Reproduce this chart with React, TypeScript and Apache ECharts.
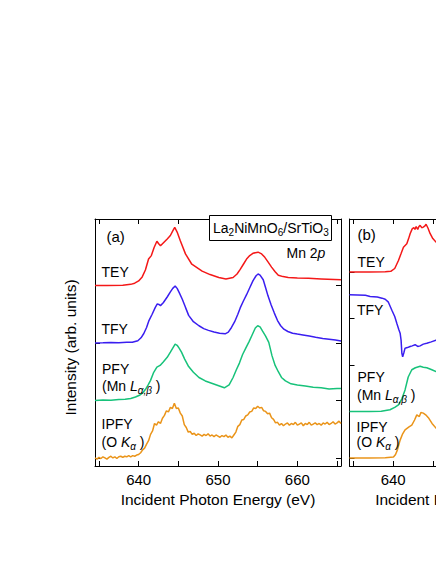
import React, { useEffect, useRef } from "react";
import * as echarts from "echarts";

const FONT = "'Liberation Sans', Arial, Helvetica, sans-serif";

// x axis (incident photon energy, eV)
const xMin = 634.5;
const xMax = 665.5;
const xTicks = [635, 640, 645, 650, 655, 660, 665];
const xTickLabelsA = [640, 650, 660];
const xTickLabelsB = [640];

// y axis (stacked intensity, arb. units)
const yMin = -0.14;
const yMax = 4.157;
const yTicksA = [0, 1, 2, 3];
const yTicksB = [0, 0.809, 1.618, 2.427, 3.236];

// Colors
const colTEY = "#f41818";
const colTFY = "#3a1ef0";
const colPFY = "#17c27a";
const colIPFY = "#ea9419";

// ---------- Panel (a) : Mn 2p ----------
const offsetsA = { TEY: 3, TFY: 2, PFY: 1, IPFY: 0 };

const teyA: [number, number][] = [
  [634.5, 0], [636, 0], [638, 0.005], [639, 0.02], [639.5, 0.04], [640, 0.08], [640.45, 0.15],
  [640.85, 0.27], [641.25, 0.46], [641.6, 0.52], [641.95, 0.66], [642.3, 0.77], [642.5, 0.73],
  [642.75, 0.69], [643.1, 0.74], [643.6, 0.81], [644.0, 0.87], [644.3, 0.95], [644.55, 1.01],
  [644.85, 0.93], [645.25, 0.78], [645.9, 0.55], [646.7, 0.37], [648.0, 0.25], [649.0, 0.19],
  [650.1, 0.14], [651.0, 0.115], [651.9, 0.14], [652.4, 0.2], [652.8, 0.28], [653.2, 0.37],
  [653.6, 0.46], [654.0, 0.52], [654.4, 0.56], [655.05, 0.58], [655.5, 0.55], [655.9, 0.49],
  [656.3, 0.41], [656.75, 0.32], [657.2, 0.24], [657.6, 0.18], [658.2, 0.155], [658.85, 0.14],
  [660, 0.13], [661.4, 0.125], [663, 0.115], [665.5, 0.1],
];

const tfyA: [number, number][] = [
  [634.5, 0], [635.5, 0.003], [636.5, 0.008], [637.5, 0.005], [638.5, 0.012], [639.2, 0.014],
  [639.9, 0.04], [640.3, 0.09], [640.65, 0.165], [641.0, 0.27], [641.3, 0.39], [641.7, 0.5],
  [642.1, 0.62], [642.35, 0.68], [642.55, 0.67], [642.75, 0.65], [643.1, 0.7], [643.6, 0.8],
  [644.0, 0.89], [644.3, 0.95], [644.6, 0.99], [644.85, 0.95], [645.1, 0.88], [645.5, 0.76],
  [645.9, 0.62], [646.3, 0.48], [646.9, 0.37], [647.6, 0.3], [648.2, 0.25], [648.8, 0.22],
  [649.5, 0.19], [650.2, 0.17], [650.9, 0.16], [651.3, 0.19], [651.7, 0.27], [652.1, 0.37],
  [652.5, 0.5], [652.8, 0.61], [653.2, 0.73], [653.6, 0.84], [654.0, 0.96], [654.4, 1.08],
  [654.8, 1.17], [655.05, 1.2], [655.3, 1.18], [655.7, 1.1], [656.0, 0.96], [656.3, 0.82],
  [656.7, 0.66], [657.1, 0.52], [657.5, 0.39], [657.9, 0.3], [658.3, 0.24], [658.8, 0.2],
  [659.4, 0.17], [660.0, 0.155], [660.7, 0.14], [661.5, 0.12], [662.3, 0.1], [663.2, 0.08],
  [664.0, 0.065], [664.8, 0.05], [665.5, 0.035],
];

const pfyA: [number, number][] = [
  [634.5, 0], [635.5, 0.01], [636.5, 0.005], [637.5, 0.015], [638.3, 0.02], [639.0, 0.035],
  [639.6, 0.06], [640.1, 0.09], [640.5, 0.13], [640.85, 0.19], [641.2, 0.27], [641.5, 0.35],
  [641.9, 0.49], [642.3, 0.58], [642.7, 0.61], [643.1, 0.67], [643.6, 0.75], [644.0, 0.84],
  [644.3, 0.91], [644.6, 0.98], [644.85, 0.96], [645.1, 0.91], [645.4, 0.84], [645.8, 0.72],
  [646.3, 0.59], [646.9, 0.49], [647.6, 0.4], [648.4, 0.34], [649.2, 0.3], [650.0, 0.26],
  [650.8, 0.22], [651.4, 0.27], [651.9, 0.4], [652.3, 0.53], [652.7, 0.65], [653.1, 0.8],
  [653.5, 0.91], [653.9, 1.02], [654.3, 1.14], [654.7, 1.26], [655.0, 1.3], [655.3, 1.28],
  [655.6, 1.21], [656.0, 1.12], [656.4, 1.01], [656.8, 0.78], [657.2, 0.61], [657.6, 0.5],
  [658.0, 0.4], [658.5, 0.34], [659.2, 0.29], [660.0, 0.27], [661.0, 0.25], [662.0, 0.23],
  [663.0, 0.22], [664.0, 0.2], [665.0, 0.21], [665.5, 0.21],
];

// IPFY sampled every 0.25 eV starting at 634.5 eV
const ipfyStartA = 634.5;
const ipfyStepA = 0.25;
const ipfyA = [
  0.0, -0.02, 0.01, -0.01, 0.02, 0.0, -0.02, 0.01, 0.03, 0.0,
  0.02, -0.01, 0.02, 0.03, 0.01, 0.03, 0.02, 0.04, 0.02, 0.04,
  0.03, 0.05, 0.06, 0.09, 0.14, 0.17, 0.24, 0.3, 0.41, 0.47,
  0.6, 0.57, 0.63, 0.6, 0.69, 0.74, 0.82, 0.8, 0.88, 0.86,
  0.95, 0.86, 0.87, 0.78, 0.73, 0.58, 0.53, 0.45, 0.46, 0.41,
  0.43, 0.39, 0.42, 0.4, 0.38, 0.41, 0.39, 0.42, 0.38, 0.4,
  0.37, 0.4, 0.38, 0.36, 0.39, 0.37, 0.4, 0.36, 0.38, 0.35,
  0.4, 0.45, 0.55, 0.58, 0.66, 0.67, 0.73, 0.75, 0.8, 0.81,
  0.87, 0.86, 0.9, 0.87, 0.88, 0.82, 0.81, 0.77, 0.78, 0.7,
  0.67, 0.61, 0.62, 0.57, 0.6, 0.56, 0.59, 0.61, 0.57, 0.6,
  0.58, 0.62, 0.57, 0.59, 0.61, 0.56, 0.6, 0.58, 0.62, 0.57,
  0.59, 0.61, 0.58, 0.6, 0.57, 0.61, 0.59, 0.62, 0.58, 0.6,
  0.63, 0.59, 0.61, 0.64, 0.6,
];

// ---------- Panel (b) ----------
const offsetsB = { TEY: 3.236, TFY: 2.0, PFY: 0.809, IPFY: 0 };

const teyB: [number, number][] = [
  [634.5, 0], [637, 0], [639, 0.003], [639.7, 0.01], [640.2, 0.06], [640.67, 0.2], [641.0, 0.32],
  [641.3, 0.43], [641.72, 0.49], [641.95, 0.58], [642.15, 0.67], [642.4, 0.75], [642.6, 0.77],
  [642.75, 0.74], [642.9, 0.79], [643.1, 0.74], [643.25, 0.79], [643.4, 0.81], [643.6, 0.77],
  [643.8, 0.78], [644.0, 0.8], [644.15, 0.83], [644.4, 0.76], [644.65, 0.67], [645.0, 0.58],
  [645.4, 0.52], [646, 0.45],
];

const tfyB: [number, number][] = [
  [634.5, 0.84], [635.5, 0.835], [636.5, 0.83], [637.1, 0.81], [638, 0.8], [638.6, 0.78],
  [639.0, 0.76], [639.4, 0.71], [639.84, 0.57], [640.2, 0.46], [640.47, 0.34], [640.7, 0.24],
  [640.88, 0.17], [641.0, 0.05], [641.1, -0.18], [641.2, -0.24], [641.35, -0.17], [641.5, -0.09],
  [641.8, -0.08], [642.14, -0.06], [642.4, -0.05], [642.77, -0.03], [643.1, -0.06], [643.4, -0.05],
  [643.8, -0.02], [644.24, -0.005], [644.8, 0.02], [645.4, 0.05], [646, 0.07],
];

const pfyB: [number, number][] = [
  [634.5, 0], [637, 0], [638.5, 0.005], [639.6, 0.03], [640.2, 0.07], [640.67, 0.115],
  [641.1, 0.22], [641.5, 0.375], [641.9, 0.6], [642.35, 0.725], [642.8, 0.76], [643.4, 0.785],
  [643.8, 0.77], [644.24, 0.76], [644.8, 0.73], [645.4, 0.695], [646, 0.66],
];

const ipfyB: [number, number][] = [
  [634.5, 0], [637, 0], [639, 0.005], [640.04, 0.015], [640.3, 0.06], [640.54, 0.14],
  [640.88, 0.31], [641.2, 0.42], [641.5, 0.49], [642.0, 0.54], [642.35, 0.57], [642.7, 0.66],
  [642.98, 0.75], [643.3, 0.72], [643.5, 0.79], [643.8, 0.78], [644.1, 0.75], [644.44, 0.7],
  [644.9, 0.6], [645.4, 0.52], [646, 0.47],
];

const xTitle = "Incident Photon Energy (eV)";
const yTitle = "Intensity (arb. units)";

function shift(pairs: [number, number][], off: number) {
  return pairs.map(([e, v]) => [e, v + off]);
}

const GRID_A = { left: 95, top: 219, width: 246, height: 247 };
const GRID_B = { left: 349.5, top: 219, width: 246, height: 247 };

function xAxisDef(gridIndex: number, position: string, labels: number[] | null) {
  return {
    type: "value",
    gridIndex,
    position,
    min: xMin,
    max: xMax,
    axisLine: { show: true, onZero: false, lineStyle: { color: "#000", width: 1 } },
    axisTick: { show: true, inside: true, length: 5, customValues: xTicks, lineStyle: { color: "#000", width: 1 } },
    axisLabel: labels
      ? { show: true, customValues: labels, margin: 6, color: "#000", fontSize: 15, fontFamily: FONT }
      : { show: false },
    splitLine: { show: false },
  };
}

function yAxisDef(gridIndex: number, position: string, ticks: number[]) {
  return {
    type: "value",
    gridIndex,
    position,
    min: yMin,
    max: yMax,
    axisLine: { show: true, onZero: false, lineStyle: { color: "#000", width: 1 } },
    axisTick: { show: true, inside: true, length: 5, customValues: ticks, lineStyle: { color: "#000", width: 1 } },
    axisLabel: { show: false },
    splitLine: { show: false },
  };
}

function lineSeries(name: string, data: number[][], color: string, xi: number, yi: number) {
  return {
    type: "line",
    name,
    data,
    xAxisIndex: xi,
    yAxisIndex: yi,
    showSymbol: false,
    symbol: "none",
    clip: true,
    lineStyle: { color, width: 1.5 },
    z: 3,
  };
}

const baseText = { fontSize: 14, fontFamily: FONT, fill: "#000" };
const richStyles = {
  i: { fontSize: 14, fontFamily: FONT, fontStyle: "italic", fill: "#000" },
  s: { fontSize: 10, fontFamily: FONT, fontStyle: "italic", fill: "#000", verticalAlign: "bottom", lineHeight: 11 },
  d: { fontSize: 10, fontFamily: FONT, fill: "#000", verticalAlign: "bottom", lineHeight: 11 },
};

function label(x: number, y: number, text: string, extra: any = {}) {
  return {
    type: "text",
    x,
    y,
    z: 100,
    style: { ...baseText, text, align: "left", verticalAlign: "middle", lineHeight: 19, rich: richStyles, ...extra },
  };
}

export default function App() {
  const ref = useRef<HTMLDivElement>(null);
  useEffect(() => {
    if (!ref.current) return;
    const chart = echarts.init(ref.current, null, { renderer: "svg" });
    const ipfyAPairs = ipfyA.map((v, i) => [ipfyStartA + i * ipfyStepA, v]) as [number, number][];

    const option: any = {
      animation: false,
      backgroundColor: "#fff",
      grid: [
        { ...GRID_A, containLabel: false, outerBoundsMode: "none" },
        { ...GRID_B, containLabel: false, outerBoundsMode: "none" },
      ],
      xAxis: [
        xAxisDef(0, "bottom", xTickLabelsA),
        xAxisDef(0, "top", null),
        xAxisDef(1, "bottom", xTickLabelsB),
        xAxisDef(1, "top", null),
      ],
      yAxis: [
        yAxisDef(0, "left", yTicksA),
        yAxisDef(0, "right", yTicksA),
        yAxisDef(1, "left", yTicksB),
        yAxisDef(1, "right", yTicksB),
      ],
      series: [
        lineSeries("TEY (a)", shift(teyA, offsetsA.TEY), colTEY, 0, 0),
        lineSeries("TFY (a)", shift(tfyA, offsetsA.TFY), colTFY, 0, 0),
        lineSeries("PFY (a)", shift(pfyA, offsetsA.PFY), colPFY, 0, 0),
        lineSeries("IPFY (a)", shift(ipfyAPairs, offsetsA.IPFY), colIPFY, 0, 0),
        lineSeries("TEY (b)", shift(teyB, offsetsB.TEY), colTEY, 2, 2),
        lineSeries("TFY (b)", shift(tfyB, offsetsB.TFY), colTFY, 2, 2),
        lineSeries("PFY (b)", shift(pfyB, offsetsB.PFY), colPFY, 2, 2),
        lineSeries("IPFY (b)", shift(ipfyB, offsetsB.IPFY), colIPFY, 2, 2),
      ],
      graphic: [
        // sample box
        {
          type: "rect",
          z: 90,
          shape: { x: 209.5, y: 215.5, width: 122, height: 25 },
          style: { fill: "#fff", stroke: "#000", lineWidth: 1 },
        },
        label(213, 228, "La{d|2}NiMnO{d|6}/SrTiO{d|3}"),
        label(286.5, 253, "Mn 2{i|p}"),
        // panel (a) labels
        label(106.5, 236, "(a)", { fontSize: 15 }),
        label(101.5, 271.5, "TEY"),
        label(101.5, 329, "TFY"),
        label(102, 368.5, "PFY"),
        label(102, 386, "(Mn {i|L}{s|α,β} )"),
        label(101.5, 424, "IPFY"),
        label(101.5, 442, "(O {i|K}{s|α} )"),
        // panel (b) labels
        label(357.5, 234, "(b)", { fontSize: 15 }),
        label(357.5, 262, "TEY"),
        label(357, 310, "TFY"),
        label(357.5, 377, "PFY"),
        label(357, 395, "(Mn {i|L}{s|α,β} )"),
        label(356.5, 427, "IPFY"),
        label(356.5, 442, "(O {i|K}{s|α} )"),
        // axis titles
        {
          type: "text",
          x: 218,
          y: 499,
          z: 100,
          style: { text: xTitle, fontSize: 15.5, fontFamily: FONT, fill: "#000", align: "center", verticalAlign: "middle" },
        },
        {
          type: "text",
          x: 472.5,
          y: 499,
          z: 100,
          style: { text: xTitle, fontSize: 15.5, fontFamily: FONT, fill: "#000", align: "center", verticalAlign: "middle" },
        },
        {
          type: "text",
          x: 70,
          y: 347.5,
          rotation: Math.PI / 2,
          z: 100,
          style: { text: yTitle, fontSize: 15.5, fontFamily: FONT, fill: "#000", align: "center", verticalAlign: "middle" },
        },
      ],
    };
    chart.setOption(option);
    return () => chart.dispose();
  }, []);

  return (
    <div
      ref={ref}
      style={{ position: "absolute", left: 0, top: 0, width: 436, height: 564, overflow: "hidden" }}
    />
  );
}
